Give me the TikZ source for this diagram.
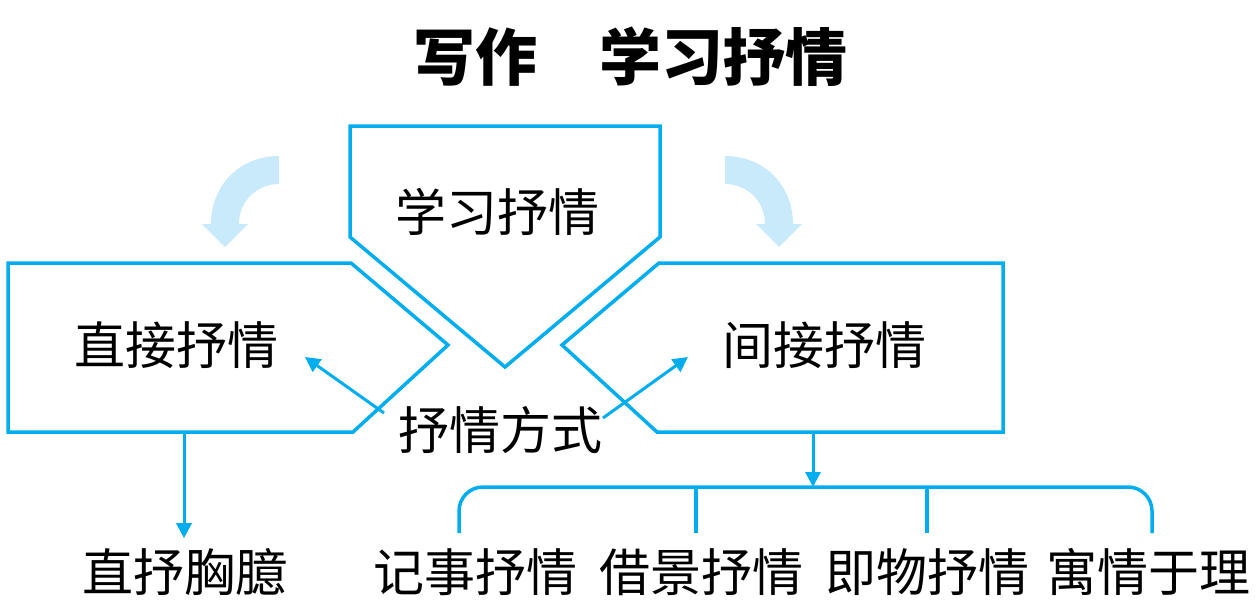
\documentclass[tikz,border=0pt]{standalone}
\usepackage{fontspec}
\usetikzlibrary{arrows.meta}
\newfontfamily\cjk{Noto Sans CJK SC}
\definecolor{lineblue}{RGB}{0,174,239}
\definecolor{paleblue}{RGB}{200,234,250}

\begin{document}
\begin{tikzpicture}[x=1pt,y=-1pt,
  frame/.style={draw=lineblue,line width=3.5pt},
  link/.style={draw=lineblue,line width=3pt,-{Triangle[length=15pt,width=15pt]}},
  word/.style={font=\cjk\fontsize{51}{54}\selectfont,inner sep=0pt},
  turn/.style={fill=paleblue}]
\useasboundingbox (0,0) rectangle (1260,608);
\node[font=\cjk\bfseries\fontsize{62}{64}\selectfont] (title) at (630,57) {写作\quad 学习抒情};
\draw[frame] (350,126) -- (660,126) -- (660,237) -- (505,367) -- (350,237) -- cycle;
\draw[frame] (8,263) -- (351,263) -- (448,345) -- (353,432) -- (8,432) -- cycle;
\draw[frame] (1003,263) -- (659,263) -- (562,345) -- (657,432) -- (1003,432) -- cycle;
\fill[turn] (279,156) .. controls (240,156) and (211,185) .. (211,224) -- (202,224) -- (225,247)
  -- (248,224) -- (239,224) .. controls (239,200) and (258,184) .. (279,184) -- cycle;
\fill[turn] (725,156) .. controls (764,156) and (793,185) .. (793,224) -- (802,224) -- (779,247)
  -- (756,224) -- (765,224) .. controls (765,200) and (746,184) .. (725,184) -- cycle;
\node[word] (learn) at (497,212) {学习抒情};
\node[word] (direct) at (176,345) {直接抒情};
\node[word] (indirect) at (824,345) {间接抒情};
\node[word] (way) at (500,430) {抒情方式};
\node[word] (heart) at (184,572) {直抒胸臆};
\node[word] (event) at (475,572) {记事抒情};
\node[word] (scene) at (701,572) {借景抒情};
\node[word] (thing) at (927,572) {即物抒情};
\node[word] (reason) at (1148,572) {寓情于理};
\coordinate (wayl) at (384,413);
\coordinate (wayr) at (603,418);
\coordinate (dtip) at (305,357);
\coordinate (itip) at (688,357);
\coordinate (dbot) at (184,432);
\coordinate (ibot) at (813,432);
\coordinate (brace) at (813,487);
\draw[link] (wayl) -- (dtip);
\draw[link] (wayr) -- (itip);
\draw[link] (dbot) -- (heart.north) [shorten >=10pt];
\draw[link] (ibot) -- (brace);
\draw[frame,rounded corners=24pt] (459,533) -- (459,487) -- (1152,487) -- (1152,533);
\draw[frame] (696,487) -- (696,533);
\draw[frame] (927,487) -- (927,533);
\end{tikzpicture}
\end{document}
